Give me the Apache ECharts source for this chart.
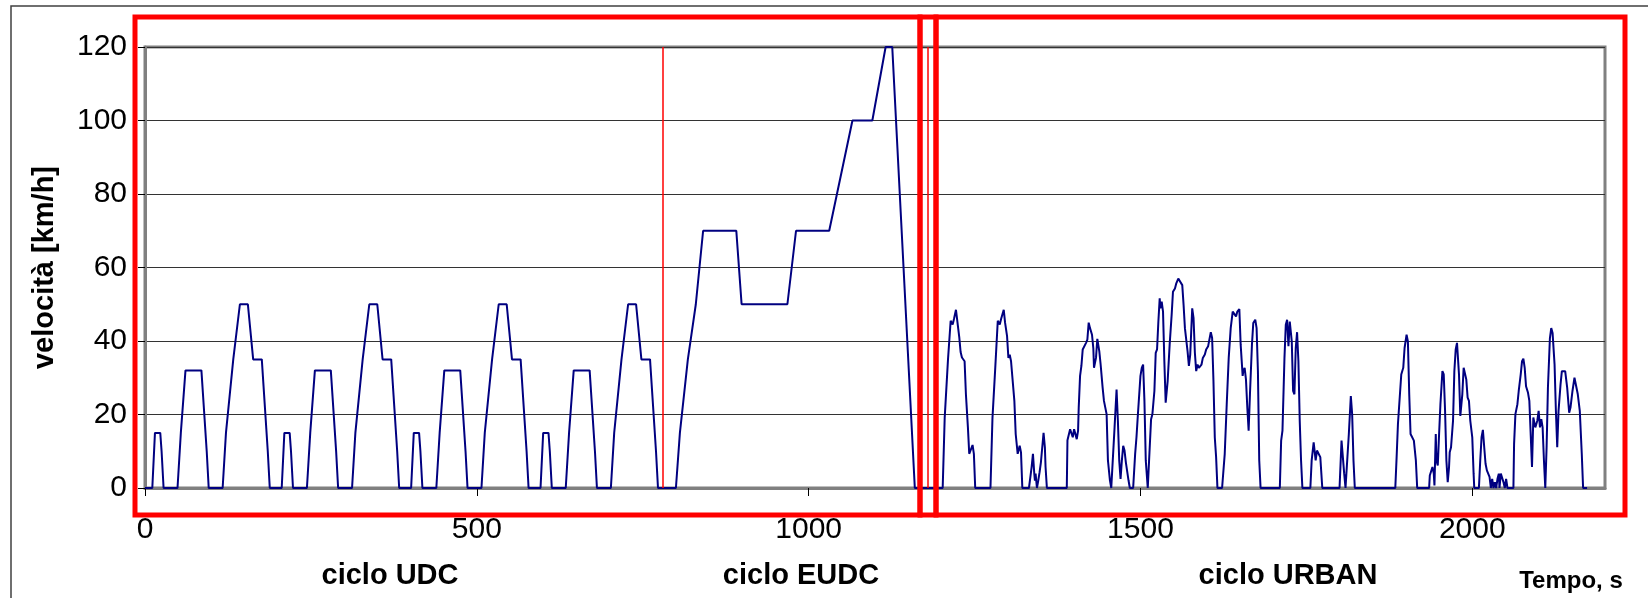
<!DOCTYPE html>
<html>
<head>
<meta charset="utf-8">
<script src="https://cdn.jsdelivr.net/npm/echarts@6/dist/echarts.min.js"></script>
<style>
  html, body { margin: 0; padding: 0; background: #ffffff; }
  #chart { width: 1648px; height: 598px; }
</style>
</head>
<body>
<div id="chart"></div>
<script>
// Four urban UDC (ECE-15) cycles: time [s] and speed [km/h] breakpoints
const udcTime = [
  0, 11, 15, 23, 25, 28, 49, 54, 56, 61, 85, 93, 96, 117, 122, 124, 133, 135, 143, 155, 163, 176, 178, 185, 188,
  195, 206, 210, 218, 220, 223, 244, 249, 251, 256, 280, 288, 291, 312, 317, 319, 328, 330, 338, 350, 358, 371, 373, 380, 383,
  390, 401, 405, 413, 415, 418, 439, 444, 446, 451, 475, 483, 486, 507, 512, 514, 523, 525, 533, 545, 553, 566, 568, 575, 578,
  585, 596, 600, 608, 610, 613, 634, 639, 641, 646, 670, 678, 681, 702, 707, 709, 718, 720, 728, 740, 748, 761, 763, 770, 773
];
const udcSpeed = [
  0, 0, 15, 15, 10, 0, 0, 15, 15, 32, 32, 10, 0, 0, 15, 15, 35, 35, 50, 50, 35, 35, 35, 10, 0,
  0, 0, 15, 15, 10, 0, 0, 15, 15, 32, 32, 10, 0, 0, 15, 15, 35, 35, 50, 50, 35, 35, 35, 10, 0,
  0, 0, 15, 15, 10, 0, 0, 15, 15, 32, 32, 10, 0, 0, 15, 15, 35, 35, 50, 50, 35, 35, 35, 10, 0,
  0, 0, 15, 15, 10, 0, 0, 15, 15, 32, 32, 10, 0, 0, 15, 15, 35, 35, 50, 50, 35, 35, 35, 10, 0
];

// Extra-urban EUDC cycle
const eudcTime  = [780, 800, 806, 808, 818, 820, 830, 832, 841, 891, 899, 968, 981, 1031, 1066, 1096, 1116, 1126, 1160, 1180];
const eudcSpeed = [0, 0, 15, 15, 35, 35, 50, 50, 70, 70, 50, 50, 70, 70, 100, 100, 120, 120, 0, 0];

// Real-world urban driving cycle
const urbanTime = [
  1202, 1205, 1210, 1214, 1217, 1219, 1222, 1224, 1227, 1229, 1231, 1233, 1235, 1237, 1240, 1242, 1245, 1247, 1249, 1251,
  1274, 1277, 1281, 1285, 1288, 1290, 1294, 1296, 1299, 1301, 1303, 1305, 1308, 1310, 1312, 1315, 1318, 1320, 1322,
  1332, 1336, 1338, 1340, 1341, 1342, 1344, 1346, 1348, 1350, 1352, 1354, 1356, 1357, 1359,
  1389, 1390, 1394, 1396, 1398, 1400, 1402, 1404, 1406, 1407, 1409, 1411, 1413, 1415, 1418, 1420, 1422, 1424, 1427, 1429,
  1430, 1433, 1435, 1438, 1440, 1443, 1445, 1449, 1451, 1454, 1456,
  1459, 1461, 1464, 1466, 1468, 1470, 1472, 1474, 1476, 1478, 1480, 1482, 1484,
  1489, 1492, 1494, 1496, 1500, 1502, 1504, 1506, 1508, 1511,
  1513, 1516, 1518, 1521, 1523, 1525, 1527, 1529, 1530, 1532, 1534, 1536, 1538, 1541, 1544, 1547, 1549, 1552, 1554, 1557,
  1560, 1563, 1565, 1567, 1569, 1571, 1573, 1575, 1578, 1580, 1582, 1584, 1586, 1588, 1590, 1592, 1594, 1597, 1599, 1602,
  1604, 1606, 1608, 1610, 1612, 1614, 1616,
  1623, 1627, 1630, 1633, 1636, 1639, 1642, 1644, 1646, 1649, 1651, 1654, 1655, 1657, 1659, 1661, 1663, 1665, 1668, 1670,
  1673, 1675, 1677, 1679, 1681,
  1710, 1712, 1714, 1717, 1719, 1721, 1723, 1725, 1726, 1728, 1730, 1732, 1734, 1736, 1738, 1740, 1742, 1744,
  1756, 1758, 1761, 1764, 1766, 1768, 1771, 1774,
  1800, 1803, 1805, 1807, 1809, 1812, 1814, 1817, 1819, 1821, 1823,
  1884, 1886, 1888, 1891, 1893, 1896, 1898, 1901, 1903, 1905, 1907, 1910, 1912, 1915, 1917,
  1935, 1936, 1939, 1940, 1942, 1943, 1945, 1946, 1948, 1950, 1952, 1955, 1957, 1959, 1961, 1963, 1965, 1966, 1968, 1971,
  1973, 1975, 1977, 1980, 1982, 1985, 1987, 1989, 1991, 1993, 1995, 1997, 2000, 2002, 2003,
  2010, 2012, 2014, 2016, 2018, 2020, 2022, 2024, 2026, 2028, 2030, 2032, 2034, 2036, 2038, 2040, 2041, 2043, 2045, 2047,
  2049, 2051, 2053,
  2062, 2063, 2065, 2068, 2070, 2073, 2075, 2077, 2079, 2081, 2084, 2086, 2088, 2090, 2092, 2094, 2095, 2098, 2100, 2102,
  2104, 2106, 2108, 2110, 2112, 2114, 2117, 2119, 2121, 2124, 2126, 2128, 2130, 2133, 2135, 2138, 2140, 2143, 2146, 2148,
  2151, 2154, 2157, 2159, 2162, 2165, 2167, 2173
];
const urbanSpeed = [
  0, 19, 35, 45.5, 44.5, 46, 48.5, 45.5, 41, 37, 35.5, 36, 34.5, 25.5, 16.5, 9.3, 9.7, 11.7, 9.3, 0,
  0, 19, 32, 45.5, 44.5, 46, 48.5, 45, 41.3, 35.4, 36.3, 34.5, 34.5, 23.7, 14.7, 9.3, 11.5, 9.7, 0,
  0, 5.7, 9.3, 3.9, 2, 3.9, 0, 2, 4.3, 7, 7.5, 15, 11, 5.7, 0,
  0, 13, 16, 16.5, 13.8, 16, 16.5, 13.3, 15.6, 22, 30.5, 33.2, 37.7, 38, 39.5, 40.4, 45, 43.5, 41.7, 38,
  32.7, 35.4, 40.6, 37.2, 33.6, 27.3, 23.7, 20.1, 7.5, 2.1, 0,
  0, 16.5, 26.8, 18.3, 7.5, 2.5, 7.5, 11.5, 10.2, 7, 6.5, 2.1, 0,
  0, 9.3, 13.8, 19.6, 30.5, 32.7, 33.6, 23.7, 7.5, 0,
  0, 18.7, 20.1, 26.4, 36.8, 37.7, 45.3, 51.6, 48.9, 50.7, 48, 34.5, 23.2, 29.1, 39, 47.1, 53.4, 54.3, 55.7, 57,
  56.6, 55.2, 49.8, 43.5, 43.5, 37.2, 33.2, 36.3, 48.9, 46.2, 36.8, 31.8, 33.6, 32.7, 32.7, 33.6, 35.4, 36.3, 37.7, 38.6,
  39, 42.4, 40.8, 29.1, 13.8, 8.4, 0,
  0, 9.3, 22.8, 35.4, 43.5, 48, 47.6, 46.7, 48, 48.7, 39, 30.5, 31.8, 32.7, 29.5, 21.9, 15.6, 25.5, 39, 44.9,
  45.8, 43.5, 31.8, 7.5, 0,
  0, 12.9, 15.6, 35.4, 44.4, 45.8, 38.6, 45.3, 45.8, 39.9, 26.4, 25.5, 38.1, 42.4, 34.5, 18.3, 7.5, 0,
  0, 7.5, 12.4, 7.5, 10.2, 9.7, 8.4, 0,
  0, 12.9, 12.9, 3.9, 0, 0, 14.7, 25, 20.1, 7.5, 0,
  0, 8.4, 17.4, 25.5, 30.9, 32.7, 38.1, 41.7, 39.9, 25.5, 14.7, 14.2, 12.9, 7.5, 0,
  0, 3.4, 3.9, 5.7, 3.9, 0.7, 14.7, 7.5, 6.1, 14.7, 22.8, 31.8, 30.9, 21, 7.5, 1.6, 5.7, 9.7, 11.1, 18.3,
  31.8, 37.7, 39.5, 30.9, 19.6, 25.5, 32.7, 33.2, 29.5, 24.6, 23.7, 18.3, 13.8, 3.9, 0,
  0, 7.5, 13.8, 15.8, 11.1, 6.6, 4.8, 4.3, 3, 0, 2.5, 0, 1.6, 0, 2.5, 3.9, 0, 3.9, 4.3, 1.6,
  0, 2.5, 0,
  0, 12, 20.1, 22.8, 26.4, 30.9, 34.5, 35.2, 32.7, 27.7, 25.9, 23.7, 14.7, 5.7, 19.2, 19.6, 16.5, 18.3, 21, 16.5,
  18.7, 16.5, 7.5, 0, 11.1, 27.3, 40.8, 43.5, 42.2, 33.6, 21, 11.1, 21, 28.2, 31.8, 32.3, 31.8, 27.3, 20.5, 21.9,
  26.4, 30, 29.5, 25.5, 21, 9.3, 0, 0
];

// Axis ticks, cycle boundaries and cycle captions
const xTicks = [0, 500, 1000, 1500, 2000];
const cycleBounds = [780, 1180];
const cycleNames = ['ciclo UDC', 'ciclo EUDC', 'ciclo URBAN'];

const toPairs = (ts, vs) => ts.map((t, i) => [t, vs[i]]);
const speedData = [].concat(
  toPairs(udcTime, udcSpeed),
  toPairs(eudcTime, eudcSpeed),
  toPairs(urbanTime, urbanSpeed)
);

const FONT = '"Liberation Sans", Arial, sans-serif';
const chart = echarts.init(document.getElementById('chart'), null, { renderer: 'canvas' });

const redBox = (x1, y1, x2, y2) => ({
  type: 'rect', z: 100, silent: true,
  shape: { x: x1, y: y1, width: x2 - x1, height: y2 - y1 },
  style: { fill: 'none', stroke: '#ff0000', lineWidth: 5 }
});
const caption = (text, cx, cy, size) => ({
  type: 'text', z: 100, silent: true,
  x: cx, y: cy,
  style: { text: text, font: 'bold ' + size + 'px ' + FONT, fill: '#000', align: 'center', verticalAlign: 'middle' }
});

chart.setOption({
  animation: false,
  backgroundColor: '#ffffff',
  grid: {
    left: 145, right: 43, top: 47, bottom: 110,
    show: true, borderColor: '#808080', borderWidth: 3, backgroundColor: '#ffffff'
  },
  xAxis: {
    type: 'value', min: 0, max: 2200, interval: 500,
    axisLine: { show: true, lineStyle: { color: '#808080', width: 3 } },
    axisTick: { show: true, customValues: xTicks, length: 8, lineStyle: { color: '#000', width: 1 } },
    axisLabel: {
      customValues: xTicks, margin: 27, fontSize: 30, fontFamily: FONT, color: '#000',
      formatter: v => String(v)
    },
    splitLine: { show: false }
  },
  yAxis: {
    type: 'value', min: 0, max: 120, interval: 20,
    name: 'velocità [km/h]', nameLocation: 'middle', nameGap: 86,
    nameTextStyle: { fontSize: 29, fontWeight: 'bold', fontFamily: FONT, color: '#000' },
    axisLine: { show: true, lineStyle: { color: '#808080', width: 3 } },
    axisTick: { show: true, length: 7, lineStyle: { color: '#000', width: 1 } },
    axisLabel: { margin: 18, fontSize: 30, fontFamily: FONT, color: '#000' },
    splitLine: { show: true, lineStyle: { color: '#333333', width: 1 } }
  },
  series: [{
    type: 'line',
    data: speedData,
    showSymbol: false,
    symbol: 'none',
    lineStyle: { color: '#000080', width: 2 },
    markLine: {
      silent: true, symbol: 'none', animation: false,
      label: { show: false },
      lineStyle: { color: '#ff0000', width: 1.5, type: 'solid' },
      data: cycleBounds.map(b => ({ xAxis: b }))
    }
  }],
  graphic: [
    { type: 'rect', z: 90, silent: true,
      shape: { x: 11, y: 6, width: 1700, height: 700 },
      style: { fill: 'none', stroke: '#404040', lineWidth: 1.5 } },
    redBox(135, 17, 920, 515),
    redBox(920, 17, 936, 515),
    redBox(936, 17, 1625, 515),
    caption(cycleNames[0], 390, 576, 29),
    caption(cycleNames[1], 801, 576, 29),
    caption(cycleNames[2], 1288, 576, 29),
    caption('Tempo, s', 1571, 581, 24)
  ]
});
</script>
</body>
</html>
